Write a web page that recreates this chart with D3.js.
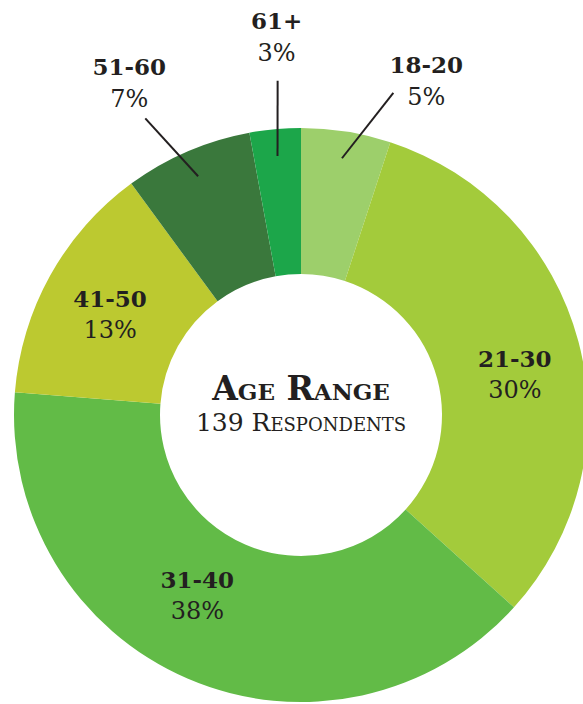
<!DOCTYPE html>
<html>
<head>
<meta charset="utf-8">
<script src="https://cdn.jsdelivr.net/npm/d3@7.9.0/dist/d3.min.js"></script>
<style>
  html, body { margin: 0; padding: 0; background: #fff; }
  svg { display: block; }
  text { font-family: "DejaVu Serif", "Liberation Serif", serif; fill: #231f20; }
</style>
</head>
<body>
<svg id="chart" width="583" height="704"></svg>
<script>
// age groups, clockwise from 12 o'clock
const ageGroups = ['18-20', '21-30', '31-40', '41-50', '51-60', '61+'];
// respondents per group (139 total)
const respondents = [7, 44, 55, 19, 10, 4];
// percentage labels as printed on the chart
const shareLabels = ['5%', '30%', '38%', '13%', '7%', '3%'];
const sliceColors = ['#9dcf6b', '#a3cb3b', '#62bb47', '#bcc930', '#3a783c', '#1ca64a'];

const title = 'Age Range';
const subtitle = '139 Respondents';

const width = 583, height = 704;
const cx = 301, cy = 415;
const outerR = 287, innerR = 141;

// labels that sit inside their slice: nudge from the arc centroid
const insideNudge = { '21-30': [7, 17], '31-40': [-19, -14], '41-50': [-4, 6] };
// labels outside with leader line: line end (angle deg, radius) and label offset from it
const callouts = {
  '18-20': { angle: 16, r: 335, dx: 33, dy: 12 },
  '51-60': { angle: -27.7, r: 335, dx: -16, dy: -11 },
  '61+': { angle: -4, r: 335, dx: -1, dy: -20 },
};

const svg = d3.select('#chart');
const g = svg.append('g').attr('transform', `translate(${cx},${cy})`);

const pie = d3.pie().value((d) => d).sort(null);
const arcData = pie(respondents);
const arcGen = d3.arc().innerRadius(innerR).outerRadius(outerR);
const color = d3.scaleOrdinal().domain(ageGroups).range(sliceColors);

g.selectAll('path.slice')
  .data(arcData)
  .join('path')
  .attr('class', 'slice')
  .attr('d', arcGen)
  .attr('fill', (d, i) => color(ageGroups[i]));

const polar = (angleRad, r) => [r * Math.sin(angleRad), -r * Math.cos(angleRad)];

function addLabel(name, pct, x, yBold, yPct) {
  g.append('text').attr('x', x).attr('y', yBold)
    .attr('text-anchor', 'middle').attr('font-size', 23).attr('font-weight', 'bold')
    .text(name);
  g.append('text').attr('x', x).attr('y', yPct)
    .attr('text-anchor', 'middle').attr('font-size', 24)
    .text(pct);
}

arcData.forEach((d, i) => {
  const name = ageGroups[i];
  if (insideNudge[name]) {
    const c = arcGen.centroid(d);
    const x = c[0] + insideNudge[name][0];
    const y = c[1] + insideNudge[name][1];
    addLabel(name, shareLabels[i], x, y - 10, y + 21);
  } else {
    const co = callouts[name];
    const mid = (d.startAngle + d.endAngle) / 2;
    const p0 = polar(mid, 260);
    const p1 = polar(co.angle * Math.PI / 180, co.r);
    g.append('line')
      .attr('x1', p0[0]).attr('y1', p0[1])
      .attr('x2', p1[0]).attr('y2', p1[1])
      .attr('stroke', '#231f20').attr('stroke-width', 2);
    const x = p1[0] + co.dx;
    const y = p1[1] + co.dy;
    addLabel(name, shareLabels[i], x, y - 32, y);
  }
});

g.append('text')
  .attr('x', 0).attr('y', -15)
  .attr('text-anchor', 'middle')
  .attr('font-size', 33).attr('font-weight', 'bold')
  .style('font-variant', 'small-caps')
  .text(title);

g.append('text')
  .attr('x', 0).attr('y', 16)
  .attr('text-anchor', 'middle')
  .attr('font-size', 25)
  .style('font-variant', 'small-caps')
  .text(subtitle);
</script>
</body>
</html>
